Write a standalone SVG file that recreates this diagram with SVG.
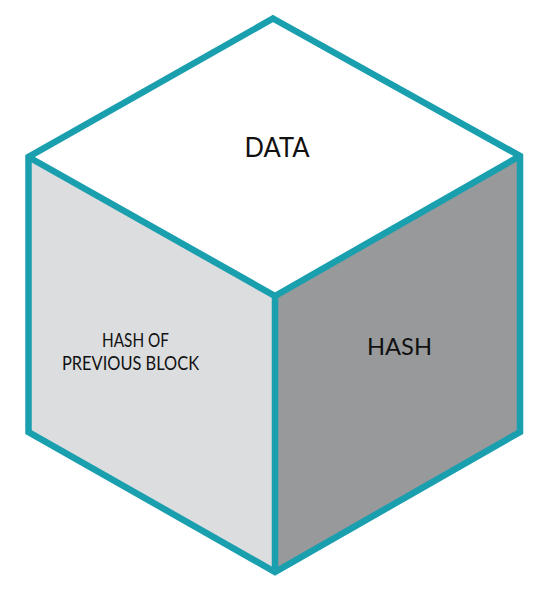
<svg xmlns="http://www.w3.org/2000/svg" width="554" height="589" viewBox="0 0 554 589">
<style>
.edge{fill:none;stroke:#1a9fae;stroke-width:6.5;stroke-linejoin:miter;stroke-miterlimit:10}
.t{font-family:Lato,"Open Sans","DejaVu Sans",sans-serif;fill:#111;text-anchor:middle}
</style>
<rect width="554" height="589" fill="#ffffff"/>
<g id="top-face">
<polygon fill="#ffffff" points="273,18.5 520,156 275,296 28.5,157"/>
<text class="t" x="277" y="157" font-size="26" textLength="65" lengthAdjust="spacingAndGlyphs">DATA</text>
</g>
<g id="left-face">
<polygon fill="#dcdddf" points="28.5,157 275,296 275,572 28.5,432"/>
<text class="t" x="135.5" y="347" font-size="19" textLength="67" lengthAdjust="spacingAndGlyphs">HASH OF</text>
<text class="t" x="130.5" y="370" font-size="19" textLength="137" lengthAdjust="spacingAndGlyphs">PREVIOUS BLOCK</text>
</g>
<g id="right-face">
<polygon fill="#98999b" points="275,296 520,156 520,432 275,572"/>
<text class="t" x="399.5" y="355" font-size="24" textLength="65" lengthAdjust="spacingAndGlyphs">HASH</text>
</g>
<g id="connectors">
<polygon class="edge" points="273,18.5 520,156 520,432 275,572 28.5,432 28.5,157"/>
<path class="edge" d="M28.5,157 L275,296 L520,156 M275,296 L275,572"/>
</g>
</svg>
